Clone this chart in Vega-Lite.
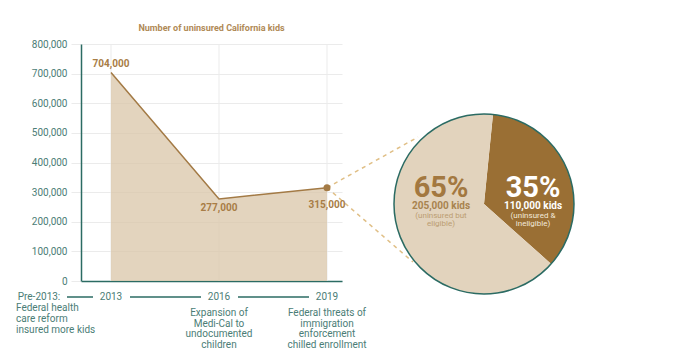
{
  "$schema": "https://vega.github.io/schema/vega-lite/v6.json",
  "autosize": {"type": "none"},
  "padding": {"left": 81, "top": 44, "right": 354, "bottom": 79},
  "width": 261,
  "height": 237,
  "background": "#ffffff",
  "config": {
    "view": {"stroke": null},
    "font": "Roboto",
    "numberFormat": ",",
    "axisX": {
      "grid": false, "labels": false, "ticks": false,
      "domainColor": "#2b6b63", "domainWidth": 1.5, "titleOpacity": 0
    },
    "axisY": {
      "grid": true, "gridColor": "#ebebeb", "tickCount": 8,
      "ticks": true, "tickSize": 10, "tickColor": "#ebebeb",
      "labelPadding": 4, "labelFont": "Roboto", "labelFontSize": 10,
      "labelColor": "#4b7d76", "labelOverlap": false,
      "labelExpr": "format(datum.value, ',')",
      "domainColor": "#2b6b63", "domainWidth": 1.5, "titleOpacity": 0
    }
  },
  "title": {
    "text": "Number of uninsured California kids",
    "anchor": "middle",
    "font": "Roboto",
    "fontSize": 9,
    "fontWeight": "bold",
    "color": "#b08a56",
    "offset": 6
  },
  "datasets": {
    "kids": [
      {"year": 2013, "uninsured": 704000, "label": "704,000"},
      {"year": 2016, "uninsured": 277000, "label": "277,000"},
      {"year": 2019, "uninsured": 315000, "label": "315,000"}
    ],
    "pie": [
      {"group": "ineligible", "share": 35, "pct": "35%", "kids": "110,000 kids", "note": ["(uninsured &", "ineligible)"]},
      {"group": "eligible", "share": 65, "pct": "65%", "kids": "205,000 kids", "note": ["(uninsured but", "eligible)"]}
    ],
    "timeline": [
      {"year": 2011, "label": "Pre-2013:", "note": ["Federal health", "care reform", "insured more kids"]},
      {"year": 2013, "label": "2013", "note": []},
      {"year": 2016, "label": "2016", "note": ["Expansion of", "Medi-Cal to", "undocumented", "children"]},
      {"year": 2019, "label": "2019", "note": ["Federal threats of", "immigration", "enforcement", "chilled enrollment"]}
    ],
    "segments": [
      {"from": 2011.25, "to": 2013},
      {"from": 2013, "to": 2016},
      {"from": 2016, "to": 2019}
    ]
  },
  "layer": [
    {
      "data": {"name": "kids"},
      "mark": {"type": "rule", "color": "#ebebeb", "strokeWidth": 1},
      "encoding": {
        "x": {
          "field": "year", "type": "quantitative", "title": null,
          "scale": {"domain": [2012.1667, 2019.4167], "nice": false, "zero": false}
        },
        "y": {
          "datum": 0, "type": "quantitative", "title": null,
          "scale": {"domain": [0, 800000], "nice": false}
        },
        "y2": {"datum": 800000}
      }
    },
    {
      "data": {"name": "kids"},
      "mark": {"type": "area", "color": "#d9c5a8", "opacity": 0.75},
      "encoding": {
        "x": {"field": "year", "type": "quantitative", "title": null},
        "y": {"field": "uninsured", "type": "quantitative", "title": null}
      }
    },
    {
      "data": {"name": "kids"},
      "mark": {"type": "line", "color": "#a37a45", "strokeWidth": 1.5},
      "encoding": {
        "x": {"field": "year", "type": "quantitative"},
        "y": {"field": "uninsured", "type": "quantitative"}
      }
    },
    {
      "data": {"name": "kids"},
      "transform": [{"filter": "datum.year == 2019"}],
      "mark": {"type": "rule", "color": "#e0bf86", "strokeWidth": 1.5, "strokeDash": [4, 4]},
      "encoding": {
        "x": {"field": "year", "type": "quantitative"},
        "y": {"field": "uninsured", "type": "quantitative"},
        "x2": {"datum": 2021.528},
        "y2": {"datum": 486000}
      }
    },
    {
      "data": {"name": "kids"},
      "transform": [{"filter": "datum.year == 2019"}],
      "mark": {"type": "rule", "color": "#e0bf86", "strokeWidth": 1.5, "strokeDash": [4, 4]},
      "encoding": {
        "x": {"field": "year", "type": "quantitative"},
        "y": {"field": "uninsured", "type": "quantitative"},
        "x2": {"datum": 2021.389},
        "y2": {"datum": 64000}
      }
    },
    {
      "data": {"name": "pie"},
      "mark": {"type": "arc", "outerRadius": 90},
      "encoding": {
        "x": {"datum": 2023.361, "type": "quantitative"},
        "y": {"datum": 260000, "type": "quantitative"},
        "theta": {"field": "share", "type": "quantitative", "stack": true, "scale": {"range": [0.1, 6.3832]}},
        "order": {"field": "share", "sort": "ascending"},
        "color": {
          "field": "group", "type": "nominal", "legend": null,
          "scale": {"domain": ["ineligible", "eligible"], "range": ["#9a6f34", "#e2d3bd"]}
        }
      }
    },
    {
      "data": {"values": [{"ring": "pie outline"}]},
      "mark": {"type": "point", "shape": "circle", "size": 32400, "filled": false, "stroke": "#2b6b63", "strokeWidth": 1.5, "opacity": 1},
      "encoding": {
        "x": {"datum": 2023.361, "type": "quantitative"},
        "y": {"datum": 260000, "type": "quantitative"}
      }
    },
    {
      "data": {"name": "pie"},
      "transform": [{"filter": "datum.group == 'eligible'"}],
      "mark": {"type": "text", "font": "Roboto", "fontSize": 29, "fontWeight": "bold", "color": "#a37840", "align": "center", "baseline": "alphabetic"},
      "encoding": {
        "x": {"datum": 2022.1667, "type": "quantitative"},
        "y": {"datum": 285000, "type": "quantitative"},
        "text": {"field": "pct"}
      }
    },
    {
      "data": {"name": "pie"},
      "transform": [{"filter": "datum.group == 'eligible'"}],
      "mark": {"type": "text", "font": "Roboto", "fontSize": 10, "fontWeight": "bold", "color": "#a8834f", "align": "center", "baseline": "alphabetic", "dy": 12.5},
      "encoding": {
        "x": {"datum": 2022.1667, "type": "quantitative"},
        "y": {"datum": 285000, "type": "quantitative"},
        "text": {"field": "kids"}
      }
    },
    {
      "data": {"name": "pie"},
      "transform": [{"filter": "datum.group == 'eligible'"}],
      "mark": {"type": "text", "font": "Roboto", "fontSize": 8, "color": "#bb9d72", "align": "center", "baseline": "alphabetic", "dy": 21, "lineHeight": 8},
      "encoding": {
        "x": {"datum": 2022.1667, "type": "quantitative"},
        "y": {"datum": 285000, "type": "quantitative"},
        "text": {"field": "note"}
      }
    },
    {
      "data": {"name": "pie"},
      "transform": [{"filter": "datum.group == 'ineligible'"}],
      "mark": {"type": "text", "font": "Roboto", "fontSize": 29, "fontWeight": "bold", "color": "#ffffff", "align": "center", "baseline": "alphabetic"},
      "encoding": {
        "x": {"datum": 2024.722, "type": "quantitative"},
        "y": {"datum": 285000, "type": "quantitative"},
        "text": {"field": "pct"}
      }
    },
    {
      "data": {"name": "pie"},
      "transform": [{"filter": "datum.group == 'ineligible'"}],
      "mark": {"type": "text", "font": "Roboto", "fontSize": 10, "fontWeight": "bold", "color": "#ffffff", "align": "center", "baseline": "alphabetic", "dy": 12.5},
      "encoding": {
        "x": {"datum": 2024.722, "type": "quantitative"},
        "y": {"datum": 285000, "type": "quantitative"},
        "text": {"field": "kids"}
      }
    },
    {
      "data": {"name": "pie"},
      "transform": [{"filter": "datum.group == 'ineligible'"}],
      "mark": {"type": "text", "font": "Roboto", "fontSize": 8, "color": "#f3e9da", "align": "center", "baseline": "alphabetic", "dy": 21, "lineHeight": 8},
      "encoding": {
        "x": {"datum": 2024.722, "type": "quantitative"},
        "y": {"datum": 285000, "type": "quantitative"},
        "text": {"field": "note"}
      }
    },
    {
      "data": {"name": "kids"},
      "transform": [{"filter": "datum.year == 2019"}],
      "mark": {"type": "point", "shape": "circle", "filled": true, "size": 49, "color": "#a37a45", "opacity": 1},
      "encoding": {
        "x": {"field": "year", "type": "quantitative"},
        "y": {"field": "uninsured", "type": "quantitative"}
      }
    },
    {
      "data": {"name": "kids"},
      "transform": [{"filter": "datum.year == 2013"}],
      "mark": {"type": "text", "font": "Roboto", "fontSize": 10, "fontWeight": "bold", "color": "#a87d46", "baseline": "middle", "dy": -8.5},
      "encoding": {
        "x": {"field": "year", "type": "quantitative"},
        "y": {"field": "uninsured", "type": "quantitative"},
        "text": {"field": "label"}
      }
    },
    {
      "data": {"name": "kids"},
      "transform": [{"filter": "datum.year == 2016"}],
      "mark": {"type": "text", "font": "Roboto", "fontSize": 10, "fontWeight": "bold", "color": "#a87d46", "baseline": "middle", "dy": 9},
      "encoding": {
        "x": {"field": "year", "type": "quantitative"},
        "y": {"field": "uninsured", "type": "quantitative"},
        "text": {"field": "label"}
      }
    },
    {
      "data": {"name": "kids"},
      "transform": [{"filter": "datum.year == 2019"}],
      "mark": {"type": "text", "font": "Roboto", "fontSize": 10, "fontWeight": "bold", "color": "#a87d46", "baseline": "middle", "dy": 17},
      "encoding": {
        "x": {"field": "year", "type": "quantitative"},
        "y": {"field": "uninsured", "type": "quantitative"},
        "text": {"field": "label"}
      }
    },
    {
      "data": {"name": "segments"},
      "mark": {"type": "rule", "color": "#2b6b63", "strokeWidth": 1.5, "xOffset": 19, "x2Offset": -18, "yOffset": 16, "y2Offset": 16},
      "encoding": {
        "x": {"field": "from", "type": "quantitative"},
        "x2": {"field": "to"},
        "y": {"datum": 0, "type": "quantitative"}
      }
    },
    {
      "data": {"name": "timeline"},
      "mark": {"type": "text", "font": "Roboto", "fontSize": 10, "color": "#4b7d76", "align": "center", "baseline": "middle", "dy": 16},
      "encoding": {
        "x": {"field": "year", "type": "quantitative"},
        "y": {"datum": 0, "type": "quantitative"},
        "text": {"field": "label"}
      }
    },
    {
      "data": {"name": "timeline"},
      "transform": [{"filter": "datum.year == 2011"}],
      "mark": {"type": "text", "font": "Roboto", "fontSize": 10, "color": "#4b7d76", "align": "left", "baseline": "alphabetic", "dx": -23, "dy": 30.3, "lineHeight": 10.7},
      "encoding": {
        "x": {"field": "year", "type": "quantitative"},
        "y": {"datum": 0, "type": "quantitative"},
        "text": {"field": "note"}
      }
    },
    {
      "data": {"name": "timeline"},
      "transform": [{"filter": "datum.year > 2013"}],
      "mark": {"type": "text", "font": "Roboto", "fontSize": 10, "color": "#4b7d76", "align": "center", "baseline": "alphabetic", "dy": 35.3, "lineHeight": 10.5},
      "encoding": {
        "x": {"field": "year", "type": "quantitative"},
        "y": {"datum": 0, "type": "quantitative"},
        "text": {"field": "note"}
      }
    }
  ]
}
